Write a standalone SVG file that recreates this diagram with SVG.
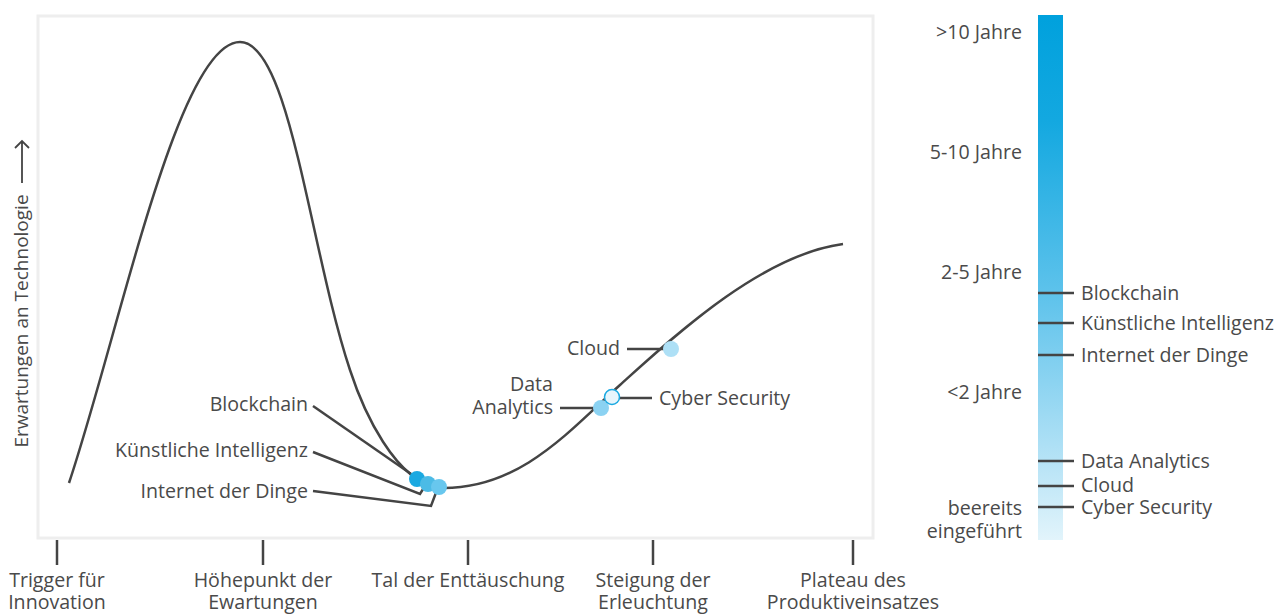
<svg xmlns="http://www.w3.org/2000/svg" width="1288" height="614" viewBox="0 0 1288 614">
<defs>
<style>
text{font-family:"Open Sans","Noto Sans","Liberation Sans",sans-serif;font-size:19.6px;fill:#4a4a4a}
.r{text-anchor:end}
.m{text-anchor:middle}
.ln{stroke:#444;stroke-width:2.5;fill:none}
.tick{stroke:#444;stroke-width:2.5}
</style>
<linearGradient id="bar" x1="0" y1="0" x2="0" y2="1">
<stop offset="0" stop-color="#00a1dd"/>
<stop offset="0.2" stop-color="#13a8e0"/>
<stop offset="0.55" stop-color="#62c4ec"/>
<stop offset="0.85" stop-color="#b6e3f6"/>
<stop offset="1" stop-color="#e2f4fb"/>
</linearGradient>
</defs>
<rect x="38" y="16" width="835" height="522" fill="#fff" stroke="#eeeeee" stroke-width="3"/>
<g id="axis-y">
<path d="M22,183 L22,141 M15,148 L22,141 L29,148" fill="none" stroke="#444" stroke-width="1.8"/>
<text transform="translate(28,321) rotate(-90)" class="m" style="font-size:19px">Erwartungen an Technologie</text>
</g>
<g id="axis-x">
<line class="tick" x1="57" y1="540" x2="57" y2="565"/>
<line class="tick" x1="263" y1="540" x2="263" y2="565"/>
<line class="tick" x1="468" y1="540" x2="468" y2="565"/>
<line class="tick" x1="653" y1="540" x2="653" y2="565"/>
<line class="tick" x1="853" y1="540" x2="853" y2="565"/>
<text class="m" x="57" y="587">Trigger für</text>
<text class="m" x="57" y="609">Innovation</text>
<text class="m" x="263" y="587">Höhepunkt der</text>
<text class="m" x="263" y="609">Ewartungen</text>
<text class="m" x="468" y="587">Tal der Enttäuschung</text>
<text class="m" x="653" y="587">Steigung der</text>
<text class="m" x="653" y="609">Erleuchtung</text>
<text class="m" x="853" y="587">Plateau des</text>
<text class="m" x="853" y="609">Produktiveinsatzes</text>
</g>
<g id="curve">
<path class="ln" d="M69,483 C120,330 178,42 240,42 C290,42 310,250 350,370 C363,410 395,482 440,488 C520,490 570,430 620,385 C670,340 760,255 843,244"/>
</g>
<g id="connectors">
<path class="ln" d="M313,406 L414,476"/>
<path class="ln" d="M313,452 L420,494 L425,486"/>
<path class="ln" d="M313,491 L431,506 L437,490"/>
<path class="ln" d="M627,349 L668,349"/>
<path class="ln" d="M612,398 L652,398"/>
<path class="ln" d="M560,408 L598,408"/>
</g>
<g id="blockchain"><circle cx="417" cy="479" r="8" fill="#1ba9e1"/><text class="r" x="308" y="411">Blockchain</text></g>
<g id="ki"><circle cx="428" cy="484" r="8" fill="#4cbbe6"/><text class="r" x="308" y="457">Künstliche Intelligenz</text></g>
<g id="iot"><circle cx="439" cy="487" r="8" fill="#68c7ee"/><text class="r" x="308" y="498">Internet der Dinge</text></g>
<g id="data-analytics"><circle cx="601" cy="408" r="8" fill="#8bd2f2"/><text class="r" x="553" y="391">Data</text><text class="r" x="553" y="414">Analytics</text></g>
<g id="cyber"><circle cx="612" cy="397" r="7.5" fill="#e6f5fc" stroke="#1ba9e1" stroke-width="1.5"/><text x="659" y="405">Cyber Security</text></g>
<g id="cloud"><circle cx="671" cy="349" r="8" fill="#aee0f6"/><text class="r" x="620" y="355">Cloud</text></g>
<g id="legend">
<rect x="1038" y="15" width="25" height="525" fill="url(#bar)"/>
<text class="r" x="1022" y="39">&gt;10 Jahre</text>
<text class="r" x="1022" y="159">5-10 Jahre</text>
<text class="r" x="1022" y="279">2-5 Jahre</text>
<text class="r" x="1022" y="399">&lt;2 Jahre</text>
<text class="r" x="1022" y="515">beereits</text>
<text class="r" x="1022" y="538">eingeführt</text>
<line class="tick" x1="1038" y1="293" x2="1074" y2="293"/>
<line class="tick" x1="1038" y1="323" x2="1074" y2="323"/>
<line class="tick" x1="1038" y1="355" x2="1074" y2="355"/>
<line class="tick" x1="1038" y1="461" x2="1074" y2="461"/>
<line class="tick" x1="1038" y1="486" x2="1074" y2="486"/>
<line class="tick" x1="1038" y1="507" x2="1074" y2="507"/>
<text x="1081" y="300">Blockchain</text>
<text x="1081" y="330">Künstliche Intelligenz</text>
<text x="1081" y="362">Internet der Dinge</text>
<text x="1081" y="468">Data Analytics</text>
<text x="1081" y="492">Cloud</text>
<text x="1081" y="514">Cyber Security</text>
</g>
</svg>
